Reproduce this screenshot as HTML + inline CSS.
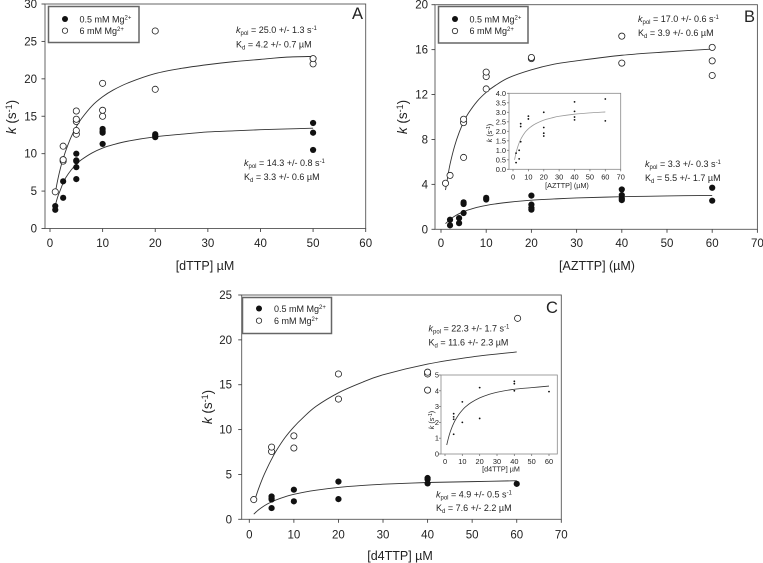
<!DOCTYPE html>
<html lang="en">
<head>
<meta charset="utf-8">
<title>Kinetics of nucleotide incorporation</title>
<style>
html,body{margin:0;padding:0;background:#fff;}
#figure{display:block;width:763px;height:563px;}
text{font-family:"Liberation Sans",sans-serif;fill:#222;}
.tick{font-size:11.5px;}
.title{font-size:12.5px;}
.ytitle{font-size:13.5px;}
.note{font-size:9px;}
.letter{font-size:16.5px;}
.itick{font-size:7.4px;}
.ititle{font-size:7.2px;}
.legend-box{fill:#fff;stroke:#666;stroke-width:1.5;}
</style>
</head>
<body>
<svg id="figure" xmlns="http://www.w3.org/2000/svg" width="763" height="563" viewBox="0 0 763 563">
  <rect width="763" height="563" fill="#fff"/>
  <g id="panel-a"></g>
  <g id="panel-b"></g>
  <g id="panel-c"></g>
  <g id="inset-b"></g>
  <g id="inset-c"></g>

  <g>
    <text class="title" x="205" y="270" text-anchor="middle">[dTTP] µM</text>
    <text class="ytitle" transform="translate(16,117) rotate(-90)" text-anchor="middle"><tspan font-style="italic">k</tspan> (s<tspan font-size="9" dy="-4">-1</tspan><tspan dy="4">)</tspan></text>
    <text class="letter" x="352" y="19">A</text>
    <rect class="legend-box" x="48.5" y="6.5" width="90.5" height="36"/>
    <circle cx="65" cy="19" r="3" fill="#111"/>
    <circle cx="65" cy="30.7" r="2.7" fill="#fff" stroke="#222" stroke-width="0.8"/>
    <text class="note" x="79.5" y="22.5">0.5 mM Mg<tspan font-size="6" dy="-3">2+</tspan></text>
    <text class="note" x="79.5" y="34">6 mM Mg<tspan font-size="6" dy="-3">2+</tspan></text>
    <text class="note" x="236" y="33"><tspan font-style="italic">k</tspan><tspan font-size="6" dy="2">pol</tspan><tspan dy="-2"> = 25.0 +/- 1.3 s</tspan><tspan font-size="6" dy="-3">-1</tspan></text>
    <text class="note" x="236" y="47.5">K<tspan font-size="6" dy="2">d</tspan><tspan dy="-2"> = 4.2 +/- 0.7 µM</tspan></text>
    <text class="note" x="244" y="166"><tspan font-style="italic">k</tspan><tspan font-size="6" dy="2">pol</tspan><tspan dy="-2"> = 14.3 +/- 0.8 s</tspan><tspan font-size="6" dy="-3">-1</tspan></text>
    <text class="note" x="244" y="180">K<tspan font-size="6" dy="2">d</tspan><tspan dy="-2"> = 3.3 +/- 0.6 µM</tspan></text>
  </g>

  <g>
    <text class="title" x="597" y="270" text-anchor="middle">[AZTTP] (µM)</text>
    <text class="ytitle" transform="translate(407,117) rotate(-90)" text-anchor="middle"><tspan font-style="italic">k</tspan> (s<tspan font-size="9" dy="-4">-1</tspan><tspan dy="4">)</tspan></text>
    <text class="letter" x="744" y="22">B</text>
    <rect class="legend-box" x="438.5" y="6.5" width="89.5" height="36.5"/>
    <circle cx="455" cy="19" r="3" fill="#111"/>
    <circle cx="455" cy="31" r="2.7" fill="#fff" stroke="#222" stroke-width="0.8"/>
    <text class="note" x="469.5" y="22.5">0.5 mM Mg<tspan font-size="6" dy="-3">2+</tspan></text>
    <text class="note" x="469.5" y="34">6 mM Mg<tspan font-size="6" dy="-3">2+</tspan></text>
    <text class="note" x="638" y="22"><tspan font-style="italic">k</tspan><tspan font-size="6" dy="2">pol</tspan><tspan dy="-2"> = 17.0 +/- 0.6 s</tspan><tspan font-size="6" dy="-3">-1</tspan></text>
    <text class="note" x="638" y="36">K<tspan font-size="6" dy="2">d</tspan><tspan dy="-2"> = 3.9 +/- 0.6 µM</tspan></text>
    <text class="note" x="645" y="167"><tspan font-style="italic">k</tspan><tspan font-size="6" dy="2">pol</tspan><tspan dy="-2"> = 3.3 +/- 0.3 s</tspan><tspan font-size="6" dy="-3">-1</tspan></text>
    <text class="note" x="645" y="181">K<tspan font-size="6" dy="2">d</tspan><tspan dy="-2"> = 5.5 +/- 1.7 µM</tspan></text>
    <text class="ititle" x="567" y="188" text-anchor="middle">[AZTTP] (µM)</text>
    <text class="ititle" transform="translate(492,133) rotate(-90)" text-anchor="middle"><tspan font-style="italic">k</tspan> (s<tspan font-size="5" dy="-2">-1</tspan><tspan dy="2">)</tspan></text>
  </g>

  <g>
    <text class="title" x="400" y="560" text-anchor="middle">[d4TTP] µM</text>
    <text class="ytitle" transform="translate(212,407) rotate(-90)" text-anchor="middle"><tspan font-style="italic">k</tspan> (s<tspan font-size="9" dy="-4">-1</tspan><tspan dy="4">)</tspan></text>
    <text class="letter" x="546" y="313">C</text>
    <rect class="legend-box" x="242.5" y="297.5" width="89" height="36"/>
    <circle cx="259" cy="308.5" r="3" fill="#111"/>
    <circle cx="259" cy="320.7" r="2.7" fill="#fff" stroke="#222" stroke-width="0.8"/>
    <text class="note" x="274" y="312">0.5 mM Mg<tspan font-size="6" dy="-3">2+</tspan></text>
    <text class="note" x="274" y="324">6 mM Mg<tspan font-size="6" dy="-3">2+</tspan></text>
    <text class="note" x="428.5" y="331.5"><tspan font-style="italic">k</tspan><tspan font-size="6" dy="2">pol</tspan><tspan dy="-2"> = 22.3 +/- 1.7 s</tspan><tspan font-size="6" dy="-3">-1</tspan></text>
    <text class="note" x="428.5" y="345.5">K<tspan font-size="6" dy="2">d</tspan><tspan dy="-2"> = 11.6 +/- 2.3 µM</tspan></text>
    <text class="note" x="436" y="497.5"><tspan font-style="italic">k</tspan><tspan font-size="6" dy="2">pol</tspan><tspan dy="-2"> = 4.9 +/- 0.5 s</tspan><tspan font-size="6" dy="-3">-1</tspan></text>
    <text class="note" x="436" y="511">K<tspan font-size="6" dy="2">d</tspan><tspan dy="-2"> = 7.6 +/- 2.2 µM</tspan></text>
    <text class="ititle" x="501" y="471.5" text-anchor="middle">[d4TTP] µM</text>
    <text class="ititle" transform="translate(434,420) rotate(-90)" text-anchor="middle"><tspan font-style="italic">k</tspan> (s<tspan font-size="5" dy="-2">-1</tspan><tspan dy="2">)</tspan></text>
  </g>
</svg>

<script>
// Panel A data
const aFilledX = [1, 1, 2.5, 2.5, 5, 5, 5, 5, 5, 10, 10, 10, 10, 20, 20, 20, 50, 50, 50];
const aFilledY = [3.0, 2.5, 4.1, 6.3, 6.6, 8.2, 9.0, 9.1, 10.0, 11.3, 12.8, 13.0, 13.3, 12.2, 12.4, 12.6, 10.5, 12.8, 14.1];
const aOpenX = [1, 2.5, 2.5, 2.5, 5, 5, 5, 5, 5, 10, 10, 10, 20, 20, 50, 50];
const aOpenY = [4.9, 9.0, 9.2, 11.0, 12.6, 13.1, 14.3, 14.6, 15.7, 15.0, 15.8, 19.4, 18.6, 26.4, 22.0, 22.7];
const aCurveX = [1, 1.5, 2, 2.5, 3, 4, 5, 6, 8, 10, 12, 15, 20, 25, 30, 35, 40, 45, 50];
const aCurveOpenY = [4.8, 6.6, 8.1, 9.3, 10.4, 12.2, 13.6, 14.7, 16.4, 17.6, 18.5, 19.5, 20.7, 21.4, 21.9, 22.3, 22.6, 22.9, 23.0];
const aCurveFilledY = [3.1, 4.3, 5.2, 6.1, 6.8, 7.8, 8.6, 9.2, 10.1, 10.75, 11.2, 11.7, 12.25, 12.6, 12.9, 13.05, 13.2, 13.3, 13.4];
const aXTicks = [0, 10, 20, 30, 40, 50, 60];
const aYTicks = [0, 5, 10, 15, 20, 25, 30];

// Panel B data
const bFilledX = [2, 2, 4, 4, 5, 5, 5, 10, 10, 20, 20, 20, 20, 40, 40, 40, 40, 60, 60];
const bFilledY = [0.35, 0.85, 0.55, 1.0, 1.45, 2.25, 2.4, 2.65, 2.8, 1.75, 1.9, 2.2, 3.0, 2.6, 2.75, 3.05, 3.55, 2.55, 3.7];
const bOpenX = [1, 2, 5, 5, 5, 10, 10, 10, 20, 20, 40, 40, 60, 60, 60];
const bOpenY = [4.1, 4.8, 6.4, 9.5, 9.8, 12.5, 13.6, 14.0, 15.2, 15.3, 14.8, 17.2, 13.7, 15.0, 16.2];
const bCurveX = [1, 1.5, 2, 3, 4, 5, 6, 8, 10, 12, 15, 20, 25, 30, 40, 50, 60];
const bCurveOpenY = [3.5, 4.7, 5.8, 7.4, 8.6, 9.55, 10.3, 11.4, 12.2, 12.8, 13.5, 14.2, 14.7, 15.0, 15.5, 15.8, 16.05];
const bCurveFilledX = [1, 2, 3, 4, 5, 6, 8, 10, 12, 15, 20, 25, 30, 40, 50, 60];
const bCurveFilledY = [0.5, 0.88, 1.16, 1.39, 1.57, 1.72, 1.96, 2.13, 2.26, 2.41, 2.59, 2.7, 2.79, 2.9, 2.97, 3.02];
const bXTicks = [0, 10, 20, 30, 40, 50, 60, 70];
const bYTicks = [0, 4, 8, 12, 16, 20];
const bInsetXTicks = [0, 10, 20, 30, 40, 50, 60, 70];
const bInsetYTicks = ['0.0', '0.5', '1.0', '1.5', '2.0', '2.5', '3.0', '3.5', '4.0'];

// Panel C data
const cFilledX = [5, 5, 5, 5, 10, 10, 20, 20, 40, 40, 40, 60];
const cFilledY = [1.25, 2.2, 2.35, 2.55, 2.0, 3.3, 2.25, 4.2, 4.0, 4.45, 4.6, 3.95];
const cOpenX = [1, 5, 5, 10, 10, 20, 20, 40, 40, 40, 60.2];
const cOpenY = [2.2, 7.55, 8.05, 7.95, 9.3, 13.4, 16.2, 14.4, 16.2, 16.4, 22.4];
const cCurveX = [1, 2, 3, 4, 5, 6, 8, 10, 12, 15, 20, 25, 30, 40, 50, 60];
const cCurveOpenY = [1.8, 3.3, 4.6, 5.7, 6.7, 7.6, 9.1, 10.3, 11.3, 12.6, 14.1, 15.2, 16.1, 17.3, 18.1, 18.65];
const cCurveFilledY = [0.57, 1.02, 1.39, 1.69, 1.94, 2.16, 2.51, 2.78, 3.0, 3.25, 3.55, 3.76, 3.91, 4.1, 4.2, 4.3];
const cXTicks = [0, 10, 20, 30, 40, 50, 60, 70];
const cYTicks = [0, 5, 10, 15, 20, 25];
const cInsetXTicks = [0, 10, 20, 30, 40, 50, 60];
const cInsetYTicks = [0, 1, 2, 3, 4, 5];

const SVGNS = 'http://www.w3.org/2000/svg';

function make(parent, tag, attrs, name) {
  const node = document.createElementNS(SVGNS, tag);
  for (const k in attrs) node.setAttribute(k, attrs[k]);
  
  
  parent.appendChild(node);
  return node;
}

function scale(d0, d1, p0, p1) {
  return function (v) { return p0 + (Number(v) - d0) * (p1 - p0) / (d1 - d0); };
}

function drawAxes(g, sx, sy, box, xTicks, yTicks, style) {
  make(g, 'rect', {x: box.left, y: box.top, width: box.right - box.left, height: box.bottom - box.top,
    fill: style.fill, stroke: style.frame, 'stroke-width': style.width}, 'plot-frame');
  xTicks.forEach(function (t) {
    const x = sx(t);
    make(g, 'line', {x1: x, x2: x, y1: box.bottom, y2: box.bottom + style.tick, stroke: style.tickColor, 'stroke-width': style.width}, 'x-tick');
    const label = make(g, 'text', {x: x, y: style.xLabelY, 'text-anchor': 'middle', class: style.labelClass}, 'x-tick-label');
    label.textContent = t;
  });
  yTicks.forEach(function (t) {
    const y = sy(t);
    make(g, 'line', {x1: box.left, x2: box.left - style.tick, y1: y, y2: y, stroke: style.tickColor, 'stroke-width': style.width}, 'y-tick');
    const label = make(g, 'text', {x: style.yLabelX, y: y + style.labelShift, 'text-anchor': 'end', class: style.labelClass}, 'y-tick-label');
    label.textContent = t;
  });
}

function drawCurve(g, sx, sy, xs, ys, color, width, name) {
  const pts = xs.map(function (x, i) { return [sx(x), sy(ys[i])]; });
  let d = 'M' + pts[0][0].toFixed(2) + ' ' + pts[0][1].toFixed(2);
  for (let i = 0; i < pts.length - 1; i++) {
    const p0 = pts[Math.max(i - 1, 0)], p1 = pts[i], p2 = pts[i + 1], p3 = pts[Math.min(i + 2, pts.length - 1)];
    const c1x = p1[0] + (p2[0] - p0[0]) / 6, c1y = p1[1] + (p2[1] - p0[1]) / 6;
    const c2x = p2[0] - (p3[0] - p1[0]) / 6, c2y = p2[1] - (p3[1] - p1[1]) / 6;
    d += ' C' + c1x.toFixed(2) + ' ' + c1y.toFixed(2) + ' ' + c2x.toFixed(2) + ' ' + c2y.toFixed(2) + ' ' + p2[0].toFixed(2) + ' ' + p2[1].toFixed(2);
  }
  make(g, 'path', {d: d, fill: 'none', stroke: color, 'stroke-width': width, 'stroke-linejoin': 'round'}, name);
}

function drawPoints(g, sx, sy, xs, ys, r, filled, name) {
  xs.forEach(function (x, i) {
    const attrs = {cx: sx(x), cy: sy(ys[i]), r: r};
    if (filled) { attrs.fill = '#111'; }
    else { attrs.fill = '#fff'; attrs.stroke = '#222'; attrs['stroke-width'] = 0.8; }
    make(g, 'circle', attrs, name);
  });
}

const mainStyle = {fill: 'none', frame: '#555', tickColor: '#444', width: 0.9, tick: 3.5, labelClass: 'tick', labelShift: 4};
const insetStyle = {fill: '#fff', frame: '#888', tickColor: '#777', width: 0.8, tick: 2, labelClass: 'itick', labelShift: 2.5};

// Panel A
(function () {
  const g = document.getElementById('panel-a');
  const sx = scale(0, 60, 50, 365.7), sy = scale(0, 30, 228.5, 4);
  drawAxes(g, sx, sy, {left: 45, right: 365.7, top: 4, bottom: 228.5}, aXTicks, aYTicks,
    Object.assign({}, mainStyle, {xLabelY: 247, yLabelX: 37}));
  drawCurve(g, sx, sy, aCurveX, aCurveOpenY, '#333', 0.9, 'fit-curve-high-mg-a');
  drawCurve(g, sx, sy, aCurveX, aCurveFilledY, '#333', 0.9, 'fit-curve-low-mg-a');
  drawPoints(g, sx, sy, aOpenX, aOpenY, 3.1, false, 'point-high-mg-a');
  drawPoints(g, sx, sy, aFilledX, aFilledY, 3.1, true, 'point-low-mg-a');
})();

// Panel B
(function () {
  const g = document.getElementById('panel-b');
  const sx = scale(0, 70, 441, 757.4), sy = scale(0, 20, 229.3, 4.7);
  drawAxes(g, sx, sy, {left: 435, right: 757.4, top: 4.7, bottom: 229.3}, bXTicks, bYTicks,
    Object.assign({}, mainStyle, {xLabelY: 247, yLabelX: 428}));
  drawCurve(g, sx, sy, bCurveX, bCurveOpenY, '#333', 0.9, 'fit-curve-high-mg-b');
  drawCurve(g, sx, sy, bCurveFilledX, bCurveFilledY, '#333', 0.9, 'fit-curve-low-mg-b');
  drawPoints(g, sx, sy, bOpenX, bOpenY, 3.1, false, 'point-high-mg-b');
  drawPoints(g, sx, sy, bFilledX, bFilledY, 3.1, true, 'point-low-mg-b');
})();

// Panel C
(function () {
  const g = document.getElementById('panel-c');
  const sx = scale(0, 70, 249.3, 561.3), sy = scale(0, 25, 519.3, 295);
  drawAxes(g, sx, sy, {left: 241.7, right: 561.3, top: 295, bottom: 519.3}, cXTicks, cYTicks,
    Object.assign({}, mainStyle, {xLabelY: 538.5, yLabelX: 232}));
  drawCurve(g, sx, sy, cCurveX, cCurveOpenY, '#333', 0.9, 'fit-curve-high-mg-c');
  drawCurve(g, sx, sy, cCurveX, cCurveFilledY, '#333', 0.9, 'fit-curve-low-mg-c');
  drawPoints(g, sx, sy, cOpenX, cOpenY, 3.1, false, 'point-high-mg-c');
  drawPoints(g, sx, sy, cFilledX, cFilledY, 3.1, true, 'point-low-mg-c');
})();

// Inset of panel B
(function () {
  const g = document.getElementById('inset-b');
  const sx = scale(0, 70, 513, 620.7), sy = scale(0, 4, 169.3, 93.3);
  drawAxes(g, sx, sy, {left: 509, right: 620.7, top: 93.3, bottom: 169.3}, bInsetXTicks, bInsetYTicks,
    Object.assign({}, insetStyle, {xLabelY: 179.5, yLabelX: 506}));
  drawCurve(g, sx, sy, bCurveFilledX, bCurveFilledY, '#999', 0.8, 'inset-fit-curve-b');
  drawPoints(g, sx, sy, bFilledX, bFilledY, 0.9, true, 'inset-point-b');
})();

// Inset of panel C
(function () {
  const g = document.getElementById('inset-c');
  const sx = scale(0, 60, 445, 549), sy = scale(0, 5, 454, 375);
  drawAxes(g, sx, sy, {left: 441, right: 557.3, top: 375, bottom: 454}, cInsetXTicks, cInsetYTicks,
    Object.assign({}, insetStyle, {xLabelY: 464, yLabelX: 439}));
  drawCurve(g, sx, sy, cCurveX, cCurveFilledY, '#333', 0.8, 'inset-fit-curve-c');
  drawPoints(g, sx, sy, cFilledX, cFilledY, 0.9, true, 'inset-point-c');
})();
</script>
</body>
</html>
